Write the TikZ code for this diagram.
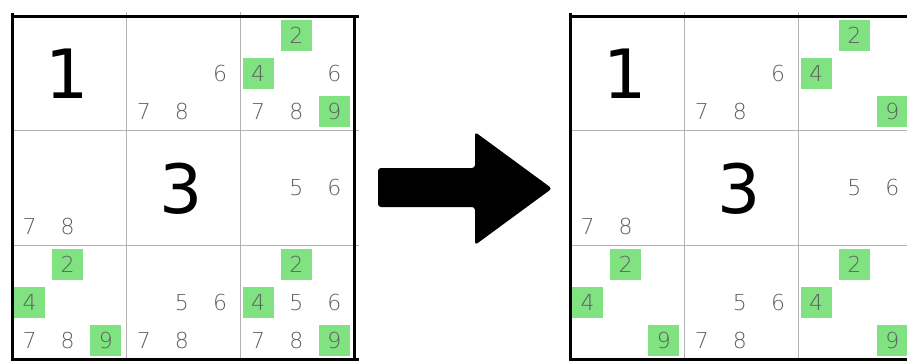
\documentclass[tikz,border=0pt]{standalone}
\usepackage{fontspec}
\setmainfont{DejaVu Sans}
\newfontfamily\candfont{DejaVu Sans ExtraLight}
\usetikzlibrary{positioning}
\definecolor{candgray}{RGB}{95,95,95}
\definecolor{hl}{RGB}{128,226,128}

% candidates of one cell: grid name, x origin, column, row, list digit/fill
\newcommand\cands[5]{%
  \foreach \d/\c in {#5} {
    \pgfmathsetmacro\sc{mod(\d-1,3)}
    \pgfmathsetmacro\sr{floor((\d-1)/3)}
    \node[cand, fill=\c] (#1-#3#4-\d) at ({#2+#3*114.3+(\sc+0.5)*38.1-1.5}, {16.5+#4*114.3+(\sr+0.5)*38.1}) {\d};
  }}

\begin{document}
\begin{tikzpicture}[
  x=1pt, y=-1pt,
  given/.style={font=\fontsize{68}{68}\selectfont, text=black, inner sep=0pt},
  cand/.style={font=\candfont\fontsize{22}{22}\selectfont, text=candgray, inner sep=0pt, minimum size=31pt},
  gridline/.style={draw=gray!60, line width=1pt},
  border/.style={draw=black, line width=3pt}
]
\useasboundingbox (0,0) rectangle (907,362);

% Grids
\foreach \ox in {12, 570} {
  \foreach \i in {1,2} {
    \draw[gridline] ({\ox+\i*114.3}, 12) -- ({\ox+\i*114.3}, 359.5);
    \draw[gridline] (\ox, {16.5+\i*114.3}) -- ({\ox+347}, {16.5+\i*114.3});
  }
  \draw[border] (\ox, 13) -- (\ox, 359.5);
  \draw[border] ({\ox-1.5}, 16.5) -- ({\ox+347}, 16.5);
  \draw[border] ({\ox+342.5}, 15) -- ({\ox+342.5}, 359.5);
  \draw[border] ({\ox-1.5}, 359.5) -- ({\ox+347}, 359.5);
}

% Given digits
\node[given] (L-00) at (67, 74) {1};
\node[given] (L-11) at (181, 188.5) {3};
\node[given] (R-00) at (625, 74) {1};
\node[given] (R-11) at (739, 188.5) {3};

% Candidates, before
\cands{L}{12}{1}{0}{6/none, 7/none, 8/none}
\cands{L}{12}{2}{0}{2/hl, 4/hl, 6/none, 7/none, 8/none, 9/hl}
\cands{L}{12}{0}{1}{7/none, 8/none}
\cands{L}{12}{2}{1}{5/none, 6/none}
\cands{L}{12}{0}{2}{2/hl, 4/hl, 7/none, 8/none, 9/hl}
\cands{L}{12}{1}{2}{5/none, 6/none, 7/none, 8/none}
\cands{L}{12}{2}{2}{2/hl, 4/hl, 5/none, 6/none, 7/none, 8/none, 9/hl}

% Candidates, after
\cands{R}{570}{1}{0}{6/none, 7/none, 8/none}
\cands{R}{570}{2}{0}{2/hl, 4/hl, 9/hl}
\cands{R}{570}{0}{1}{7/none, 8/none}
\cands{R}{570}{2}{1}{5/none, 6/none}
\cands{R}{570}{0}{2}{2/hl, 4/hl, 9/hl}
\cands{R}{570}{1}{2}{5/none, 6/none, 7/none, 8/none}
\cands{R}{570}{2}{2}{2/hl, 4/hl, 9/hl}

% Arrow
\fill[rounded corners=3pt] (378,168) -- (475,168) -- (475,132) -- (552,188.5)
  -- (475,245) -- (475,207) -- (378,207) -- cycle;

\end{tikzpicture}
\end{document}
